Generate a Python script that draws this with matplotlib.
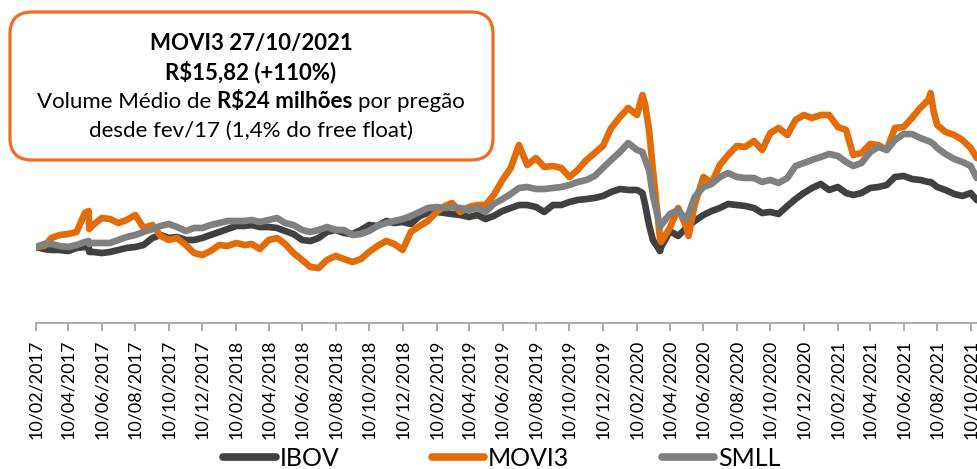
import matplotlib
matplotlib.use("Agg")
import matplotlib.pyplot as plt
import pandas as pd
from matplotlib.patches import FancyBboxPatch
from matplotlib.transforms import IdentityTransform
from matplotlib.lines import Line2D

# ---------------- data (index, base 100 on 10/02/2017) ----------------
dates = [
    "2017-02-10", "2017-02-25", "2017-03-10", "2017-03-25", "2017-04-10", "2017-04-25",
    "2017-05-10", "2017-05-17", "2017-05-18", "2017-05-25", "2017-06-10", "2017-06-25",
    "2017-07-10", "2017-07-25", "2017-08-10", "2017-08-25", "2017-09-10", "2017-09-25",
    "2017-10-10", "2017-10-25", "2017-11-10", "2017-11-25", "2017-12-10", "2017-12-25",
    "2018-01-10", "2018-01-25", "2018-02-10", "2018-02-25", "2018-03-10", "2018-03-25",
    "2018-04-10", "2018-04-25", "2018-05-10", "2018-05-25", "2018-06-10", "2018-06-25",
    "2018-07-10", "2018-07-25", "2018-08-10", "2018-08-25", "2018-09-10", "2018-09-25",
    "2018-10-10", "2018-10-25", "2018-11-10", "2018-11-25", "2018-12-10", "2018-12-25",
    "2019-01-10", "2019-01-25", "2019-02-10", "2019-02-25", "2019-03-10", "2019-03-25",
    "2019-04-10", "2019-04-25", "2019-05-10", "2019-05-25", "2019-06-10", "2019-06-25",
    "2019-07-10", "2019-07-25", "2019-08-10", "2019-08-25", "2019-09-10", "2019-09-25",
    "2019-10-10", "2019-10-25", "2019-11-10", "2019-11-25", "2019-12-10", "2019-12-25",
    "2020-01-10", "2020-01-25", "2020-02-10", "2020-02-20", "2020-02-25", "2020-03-03",
    "2020-03-10", "2020-03-23", "2020-03-25", "2020-04-10", "2020-04-25", "2020-05-10",
    "2020-05-14", "2020-05-25", "2020-06-10", "2020-06-25", "2020-07-10", "2020-07-25",
    "2020-08-10", "2020-08-25", "2020-09-10", "2020-09-25", "2020-10-10", "2020-10-25",
    "2020-11-10", "2020-11-25", "2020-12-10", "2020-12-25", "2021-01-10", "2021-01-25",
    "2021-02-10", "2021-02-25", "2021-03-10", "2021-03-25", "2021-04-10", "2021-04-25",
    "2021-05-10", "2021-05-25", "2021-06-10", "2021-06-25", "2021-07-10", "2021-07-25",
    "2021-07-29", "2021-08-03", "2021-08-10", "2021-08-25", "2021-09-10", "2021-09-25",
    "2021-10-10", "2021-10-21", "2021-10-27",
]

ibov = [
    100.0, 97.5, 96.3, 96.3, 95.0, 98.8, 100.0, 100.0, 93.8, 93.8, 92.5, 93.8,
    96.3, 98.8, 100.0, 102.5, 111.3, 115.0, 111.3, 112.5, 108.8, 108.8, 111.3, 115.0,
    118.8, 122.5, 126.3, 126.3, 127.5, 125.0, 125.0, 123.8, 120.0, 116.3, 108.8, 107.5,
    111.3, 118.8, 121.3, 117.5, 116.3, 121.3, 127.5, 126.3, 132.5, 130.0, 131.3, 128.8,
    138.8, 142.5, 143.8, 142.5, 141.3, 140.0, 137.5, 140.0, 135.0, 138.8, 145.0, 148.8,
    152.5, 152.5, 150.0, 143.8, 152.5, 152.5, 156.3, 158.8, 160.0, 161.3, 163.8, 168.8,
    172.5, 171.3, 171.3, 167.5, 152.5, 127.5, 108.8, 95.0, 100.0, 120.0, 113.8, 123.8,
    126.3, 132.5, 140.0, 145.0, 148.8, 153.8, 152.5, 151.3, 148.8, 142.5, 143.8, 141.3,
    151.3, 160.0, 167.5, 173.8, 178.8, 171.3, 175.0, 167.5, 165.0, 167.5, 173.8, 175.0,
    177.5, 187.5, 188.8, 185.0, 183.8, 181.3, 181.3, 178.8, 175.0, 171.3, 166.3, 163.8,
    167.5, 158.8, 157.5,
]

movi3 = [
    100.0, 101.3, 111.3, 115.0, 116.3, 118.8, 142.5, 145.0, 122.5, 127.5, 136.3, 135.0,
    130.0, 133.8, 140.0, 123.8, 127.5, 113.8, 108.8, 111.3, 102.5, 92.5, 90.0, 95.0,
    102.5, 101.3, 105.0, 102.5, 103.8, 97.5, 108.8, 111.3, 103.8, 92.5, 83.8, 75.0,
    73.8, 83.8, 88.8, 85.0, 81.3, 85.0, 93.8, 101.3, 107.5, 103.8, 96.3, 118.8,
    126.3, 132.5, 143.8, 151.3, 155.0, 143.8, 150.0, 152.5, 152.5, 165.0, 183.8, 198.8,
    227.5, 202.5, 211.3, 200.0, 201.3, 198.8, 187.5, 196.3, 208.8, 217.5, 226.3, 248.8,
    262.5, 273.8, 265.0, 290.0, 277.5, 246.3, 196.3, 111.3, 106.3, 123.8, 148.8, 125.0,
    113.8, 152.5, 187.5, 180.0, 202.5, 215.0, 226.3, 225.0, 232.5, 221.3, 242.5, 248.8,
    240.0, 258.8, 265.0, 261.3, 265.0, 265.0, 250.0, 246.3, 215.0, 217.5, 228.8, 227.5,
    221.3, 248.8, 250.0, 261.3, 273.8, 283.8, 292.5, 271.3, 252.5, 243.8, 240.0, 233.8,
    223.8, 211.3, 210.0,
]

smll = [
    100.0, 103.8, 103.8, 101.3, 100.0, 102.5, 106.3, 107.5, 103.8, 105.0, 105.0, 105.0,
    108.8, 112.5, 115.0, 118.8, 122.5, 126.3, 128.8, 125.0, 120.0, 123.8, 123.8, 127.5,
    130.0, 132.5, 132.5, 132.5, 133.8, 131.3, 133.8, 136.3, 130.0, 127.5, 121.3, 118.8,
    121.3, 125.0, 121.3, 121.3, 115.0, 116.3, 120.0, 126.3, 130.0, 132.5, 135.0, 138.8,
    143.8, 148.8, 150.0, 148.8, 150.0, 148.8, 146.3, 148.8, 143.8, 153.8, 160.0, 166.3,
    173.8, 175.0, 172.5, 172.5, 173.8, 175.0, 177.5, 181.3, 183.8, 188.8, 198.8, 208.8,
    218.8, 230.0, 221.3, 218.8, 208.8, 196.3, 165.0, 125.0, 127.5, 141.3, 146.3, 133.8,
    141.3, 162.5, 175.0, 178.8, 187.5, 192.5, 187.5, 186.3, 186.3, 181.3, 183.8, 180.0,
    186.3, 201.3, 205.0, 208.8, 212.5, 216.3, 213.8, 206.3, 201.3, 205.0, 218.8, 225.0,
    221.3, 233.8, 241.3, 241.3, 236.3, 232.5, 231.3, 228.8, 223.8, 216.3, 210.0, 206.3,
    201.3, 186.3, 186.3,
]

series_names = ["IBOV", "MOVI3", "SMLL"]
series_colors = ["#404040", "#E36C09", "#808080"]

tick_dates = [
    "2017-02-10", "2017-04-10", "2017-06-10", "2017-08-10", "2017-10-10", "2017-12-10",
    "2018-02-10", "2018-04-10", "2018-06-10", "2018-08-10", "2018-10-10", "2018-12-10",
    "2019-02-10", "2019-04-10", "2019-06-10", "2019-08-10", "2019-10-10", "2019-12-10",
    "2020-02-10", "2020-04-10", "2020-06-10", "2020-08-10", "2020-10-10", "2020-12-10",
    "2021-02-10", "2021-04-10", "2021-06-10", "2021-08-10", "2021-10-10",
]
tick_labels = [
    "10/02/2017", "10/04/2017", "10/06/2017", "10/08/2017", "10/10/2017", "10/12/2017",
    "10/02/2018", "10/04/2018", "10/06/2018", "10/08/2018", "10/10/2018", "10/12/2018",
    "10/02/2019", "10/04/2019", "10/06/2019", "10/08/2019", "10/10/2019", "10/12/2019",
    "10/02/2020", "10/04/2020", "10/06/2020", "10/08/2020", "10/10/2020", "10/12/2020",
    "10/02/2021", "10/04/2021", "10/06/2021", "10/08/2021", "10/10/2021",
]

box_line1 = "MOVI3 27/10/2021"
box_line2 = "R$15,82 (+110%)"
box_line3 = ["Volume Médio de", "R$24 milhões", "por pregão"]
box_line4 = "desde fev/17 (1,4% do free float)"

# ---------------- figure ----------------
W, H = 977, 469
FONT = "Lato"
fig = plt.figure(figsize=(W / 100, H / 100), dpi=100)
fig.patch.set_facecolor("white")

ax_left, ax_right = 36, 980
ax_bottom_px, ax_top_px = 322.7, 10
ax = fig.add_axes([ax_left / W, (H - ax_bottom_px) / H,
                   (ax_right - ax_left) / W, (ax_bottom_px - ax_top_px) / H])

x = pd.to_datetime(dates)
for name, vals, col in zip(series_names, [ibov, movi3, smll], series_colors):
    ax.plot(x, vals, color=col, lw=4.8, solid_joinstyle="round",
            solid_capstyle="round", label=name)

ax.set_xlim(pd.Timestamp("2017-02-10"), pd.Timestamp("2021-10-27"))
ax.set_ylim(5.4, 396.25)
for s in ["top", "right", "left"]:
    ax.spines[s].set_visible(False)
ax.spines["bottom"].set_color("#A6A6A6")
ax.spines["bottom"].set_linewidth(1.3)
ax.set_yticks([])
ax.set_xticks(pd.to_datetime(tick_dates))
ax.set_xticklabels(tick_labels, rotation=90, fontsize=13, family=FONT,
                   color="black")
ax.tick_params(axis="x", direction="out", length=6, width=1.3,
               color="#A6A6A6", pad=6)

# ---------------- legend ----------------
handles = [Line2D([0], [0], color=c, lw=5.5, solid_capstyle="round")
           for c in series_colors]
fig.legend(handles, series_names, loc="center",
           bbox_to_anchor=(502 / W, 11 / H), ncol=3, frameon=False,
           prop={"family": FONT, "size": 18}, handlelength=2.1,
           handletextpad=0.15, columnspacing=3.7)

# ---------------- annotation box ----------------
box = FancyBboxPatch((10, H - 160), 483, 148,
                     boxstyle="round,pad=0,rounding_size=22",
                     transform=IdentityTransform(), facecolor="white",
                     edgecolor="#F26B21", lw=2.3, zorder=5)
fig.patches.append(box)

cx = 251
fs = 16
def ftext(xp, ybase, s, **kw):
    return fig.text(xp / W, (H - ybase) / H, s, family=FONT, fontsize=fs,
                    va="baseline", parse_math=False, zorder=6, **kw)

ftext(cx, 50, box_line1, ha="center", fontweight="bold")
ftext(cx, 79, box_line2, ha="center", fontweight="bold")
ftext(cx, 137, box_line4, ha="center")

renderer = fig.canvas.get_renderer()
pieces = [ftext(0, 108, box_line3[0], ha="left"),
          ftext(0, 108, box_line3[1], ha="left", fontweight="bold"),
          ftext(0, 108, box_line3[2], ha="left")]
sp_a = ftext(0, 108, "x x", ha="left")
sp_b = ftext(0, 108, "xx", ha="left")
space = sp_a.get_window_extent(renderer).width - sp_b.get_window_extent(renderer).width
sp_a.remove(); sp_b.remove()
widths = [p.get_window_extent(renderer).width for p in pieces]
total = sum(widths) + 2 * space
xs = cx - total / 2
for p, w in zip(pieces, widths):
    p.set_x(xs / W)
    xs += w + space

fig.savefig("out.png", dpi=100, facecolor="white")
